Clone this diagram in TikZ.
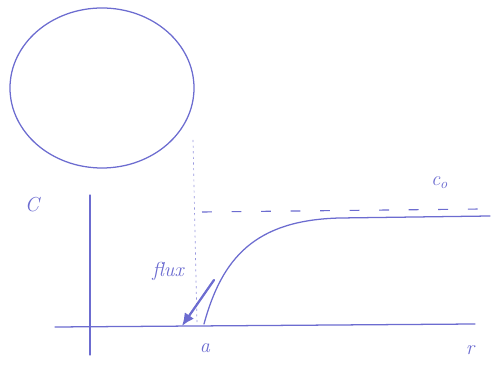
\documentclass[tikz,border=0pt]{standalone}
\usepackage{xcolor}
\usetikzlibrary{arrows.meta,positioning,calc,backgrounds}
\pgfdeclarelayer{edgelayer}
\pgfdeclarelayer{nodelayer}
\pgfsetlayers{background,edgelayer,nodelayer,main}
\definecolor{pen}{RGB}{108,108,208}
\tikzstyle{none}=[inner sep=0mm]
\tikzstyle{hand}=[draw=pen,line width=0.9pt,line cap=round]
\tikzstyle{lbl}=[inner sep=0mm,text=pen,font=\Large\itshape]
\tikzstyle{guide}=[draw=pen!70,line width=0.5pt,dash pattern=on 1.5pt off 2.5pt]
\tikzstyle{level}=[draw=pen,line width=0.8pt,dash pattern=on 7pt off 14pt]

\begin{document}
\begin{tikzpicture}[x=0.025cm,y=0.025cm]
	\useasboundingbox (0,0) rectangle (492,366);
	\begin{pgfonlayer}{nodelayer}
		\node [style=none] (vtop) at (90, 171) {};
		\node [style=none] (vbot) at (90, 11) {};
		\node [style=none] (hl) at (55, 39) {};
		\node [style=none] (hr) at (475, 42) {};
		\node [style=none] (rim) at (193, 226) {};
		\node [style=none] (foot) at (197, 41) {};
		\node [style=none] (cl) at (202, 154) {};
		\node [style=none] (cr) at (482, 157) {};
		\node [style=none] (s0) at (204, 42) {};
		\node [style=none] (s1) at (340, 148) {};
		\node [style=none] (s2) at (490, 150) {};
		\node [style=none] (ft) at (214, 86) {};
		\node [style=none] (fh) at (182, 40) {};
		\node [style=lbl] (lc) at (32, 161) {C};
		\node [style=lbl] (lco) at (440, 183) {c$_{\mathit o}$};
		\node [style=lbl] (lflux) at (168, 95) {flux};
		\node [style=lbl] (la) at (205, 18) {a};
		\node [style=lbl] (lr) at (470, 16) {r};
	\end{pgfonlayer}
	\begin{pgfonlayer}{edgelayer}
		\draw [style=hand] (102, 278) ellipse (92 and 80);
		\draw [style=hand] (vtop.center) to (vbot.center);
		\draw [style=hand] (hl.center) to (hr.center);
		\draw [style=guide] (rim.center) to (foot.center);
		\draw [style=level] (cl.center) to (cr.center);
		\draw [style=hand] (s0.center) .. controls (222, 108) and (255, 146) .. (s1.center) to (s2.center);
		\draw [style=hand, line width=1.6pt, -{Latex[length=9pt,width=8pt]}] (ft.center) to (fh.center);
	\end{pgfonlayer}
\end{tikzpicture}
\end{document}
